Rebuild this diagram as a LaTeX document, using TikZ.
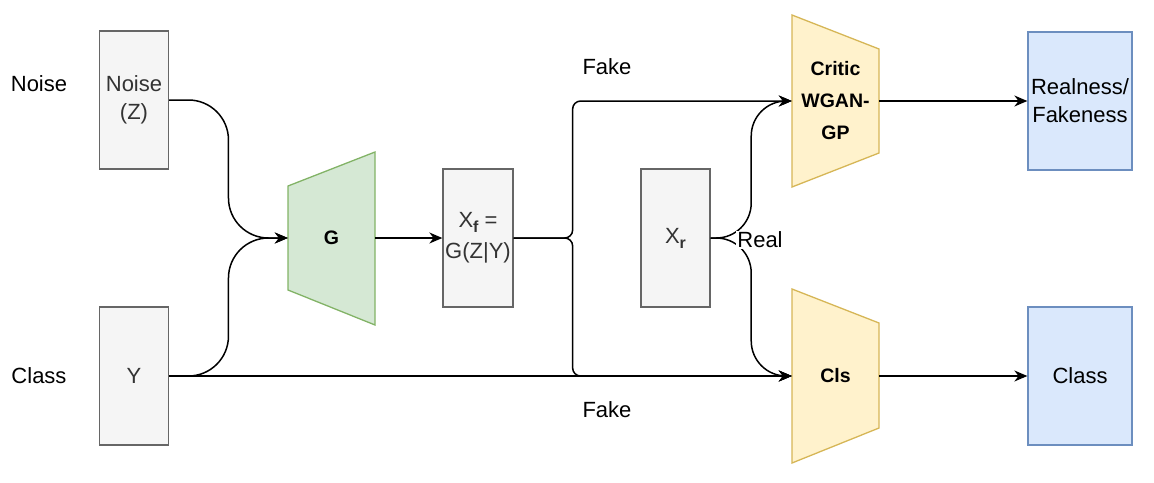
\documentclass[tikz,border=0pt]{standalone}
\usepackage{fontspec}
\setmainfont{Liberation Sans}
\usetikzlibrary{arrows.meta,calc}
\definecolor{boxgray}{HTML}{F5F5F5}
\definecolor{linegray}{HTML}{666666}
\definecolor{textgray}{HTML}{333333}
\definecolor{genfill}{HTML}{D5E8D4}
\definecolor{genline}{HTML}{82B366}
\definecolor{discfill}{HTML}{FFF2CC}
\definecolor{discline}{HTML}{D6B656}
\definecolor{outfill}{HTML}{DAE8FC}
\definecolor{outline}{HTML}{6C8EBF}
\newcommand{\subidx}[1]{\raisebox{-5pt}{\fontsize{16}{16}\selectfont\bfseries #1}}
\tikzset{
  block/.style={draw=linegray, fill=boxgray, text=textgray, line width=1.3pt,
    minimum width=69pt, minimum height=138pt, inner sep=0pt, align=center,
    font=\fontsize{22}{28}\selectfont},
  outbox/.style={block, draw=outline, fill=outfill, text=black, minimum width=104pt},
  net/.style={inner sep=0pt, minimum width=87pt, minimum height=104pt, align=center,
    font=\bfseries\fontsize{19.5}{32}\selectfont},
  arr/.style={-{Stealth[length=13pt,width=11pt]}, line width=1.5pt},
  lbl/.style={font=\fontsize{22}{26}\selectfont, inner sep=1pt}
}
\begin{document}
\begin{tikzpicture}[x=1pt,y=-1pt]
\useasboundingbox (0,0) rectangle (1154,482);
% trapezoids
\filldraw[fill=genfill, draw=genline, line width=1.3pt] (288,186) -- (375,152) -- (375,325) -- (288,290) -- cycle;
\filldraw[fill=discfill, draw=discline, line width=1.3pt] (792,15) -- (879,49) -- (879,153) -- (792,187) -- cycle;
\filldraw[fill=discfill, draw=discline, line width=1.3pt] (792,289) -- (879,323) -- (879,428) -- (792,463) -- cycle;
\node[net] (G) at (331.5,238) {G};
\node[net] (critic) at (835.5,101) {Critic\\WGAN-\\GP};
\node[net] (cls) at (835.5,376) {Cls};
% boxes
\node[block] (noise) at (134,100) {Noise\\(Z)};
\node[block] (y) at (134,376) {Y};
\node[block, minimum width=70pt] (xf) at (478,238) {X\subidx{f} =\\[3pt]G(Z|Y)};
\node[block] (xr) at (675.5,238) {X\subidx{r}};
\node[outbox] (realness) at (1080,101) {Realness/\\Fakeness};
\node[outbox] (classout) at (1080,376) {Class};
% labels
\node[lbl] (noiselbl) at (39,84) {Noise};
\node[lbl] (classlbl) at (39,376) {Class};
\node[lbl] (fakeup) at (607,67) {Fake};
\node[lbl] (fakedown) at (607,410) {Fake};
\coordinate (fork) at ($(xf.east)+(59,0)$);
\coordinate (inmid) at ($(noise.east)!.5!(G.west)$);
\coordinate (outmid) at ($(xr.east)!.5!(critic.west)$);
% connectors
\draw[arr, rounded corners=40pt] (noise.east) -| (inmid |- G.west) -- (G.west);
\draw[arr, rounded corners=40pt] (y.east) -| (inmid |- G.west) -- (G.west);
\draw[arr] (y.east) -- (cls.west);
\draw[arr] (G.east) -- (xf.west);
\draw[arr, rounded corners=8pt] (xf.east) -- (fork) |- (critic.west);
\draw[arr, rounded corners=8pt] (xf.east) -- (fork) |- (cls.west);
\draw[arr, rounded corners=35pt] (xr.east) -| (outmid |- critic.west) -- (critic.west);
\draw[arr, rounded corners=35pt] (xr.east) -| (outmid |- cls.west) -- (cls.west);
\node[lbl, fill=white] (reallbl) at (760,240) {Real};
\draw[arr] (critic.east) -- (realness.west);
\draw[arr] (cls.east) -- (classout.west);
\end{tikzpicture}
\end{document}
